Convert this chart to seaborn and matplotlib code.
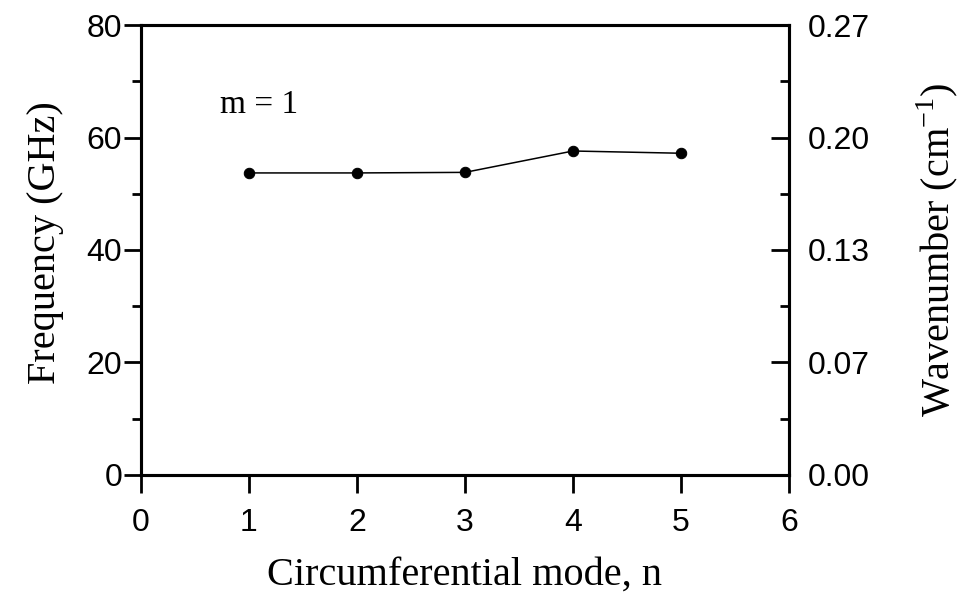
import matplotlib
matplotlib.use("Agg")
import matplotlib.pyplot as plt
import seaborn as sns
import pandas as pd
from matplotlib.ticker import MultipleLocator, FixedLocator, FixedFormatter

# ---- data ----
modes = [1, 2, 3, 4, 5]
frequency_ghz = [53.7, 53.7, 53.8, 57.6, 57.2]
x_ticks = [0, 1, 2, 3, 4, 5, 6]
left_ticks = [0, 20, 40, 60, 80]
right_ticklabels = ["0.00", "0.07", "0.13", "0.20", "0.27"]
annotation = "m = 1"

df = pd.DataFrame({"n": modes, "f": frequency_ghz})

sns.set_style("ticks")
tick_font = ["Liberation Sans Narrow", "Liberation Sans", "DejaVu Sans"]
label_font = ["Liberation Serif", "DejaVu Serif"]
plt.rcParams["font.family"] = tick_font
for k in ["text.color", "axes.labelcolor", "xtick.color", "ytick.color", "axes.edgecolor"]:
    plt.rcParams[k] = "black"

fig = plt.figure(figsize=(9.63, 6.07), dpi=100)
ax = fig.add_axes([0.1464, 0.2175, 0.6729, 0.7413])

sns.lineplot(data=df, x="n", y="f", ax=ax, color="black", linewidth=1.1,
             marker="o", markersize=7.5, markeredgecolor="black")

ax.set_xlim(0, 6)
ax.set_ylim(0, 80)
ax.set_xticks(x_ticks)
ax.set_yticks(left_ticks)
ax.yaxis.set_minor_locator(MultipleLocator(10))

for sp in ax.spines.values():
    sp.set_linewidth(2.2)
    sp.set_color("black")

ax.tick_params(axis="x", which="major", direction="out", length=13, width=2,
               labelsize=23, pad=11, top=False, color="black", labelcolor="black")
ax.tick_params(axis="y", which="major", direction="out", length=12, width=2,
               labelsize=23, pad=1.5, color="black", labelcolor="black")
ax.tick_params(axis="y", which="minor", direction="out", length=6.5, width=2, color="black")

ax2 = ax.twinx()
ax2.set_ylim(0, 80)
ax2.yaxis.set_major_locator(FixedLocator(left_ticks))
ax2.yaxis.set_major_formatter(FixedFormatter(right_ticklabels))
ax2.yaxis.set_minor_locator(MultipleLocator(10))
ax2.tick_params(axis="y", which="major", direction="in", length=13, width=2,
                labelsize=23, pad=13.5, color="black", labelcolor="black")
ax2.tick_params(axis="y", which="minor", direction="in", length=6.5, width=2, color="black")
for sp in ax2.spines.values():
    sp.set_linewidth(2.2)
    sp.set_color("black")

ax.set_xlabel("Circumferential mode, n", fontsize=29, family=label_font, color="black")
ax.xaxis.label.set_va("center")
ax.xaxis.set_label_coords(0.5, -0.222)

ax.set_ylabel("Frequency (GHz)", fontsize=29, family=label_font, color="black")
ax.yaxis.label.set_va("center")
ax.yaxis.set_label_coords(-0.148, 0.516)

ax2.set_ylabel("Wavenumber (cm$^{\\mathregular{-1}}$)", fontsize=29, family=label_font,
               rotation=90, color="black")
ax2.yaxis.label.set_va("center")
ax2.yaxis.set_label_coords(1.228, 0.5)

ax.text(0.73, 65.8, annotation, fontsize=24, family=label_font, va="center", ha="left",
        color="black")

fig.savefig("out.png", dpi=100)
